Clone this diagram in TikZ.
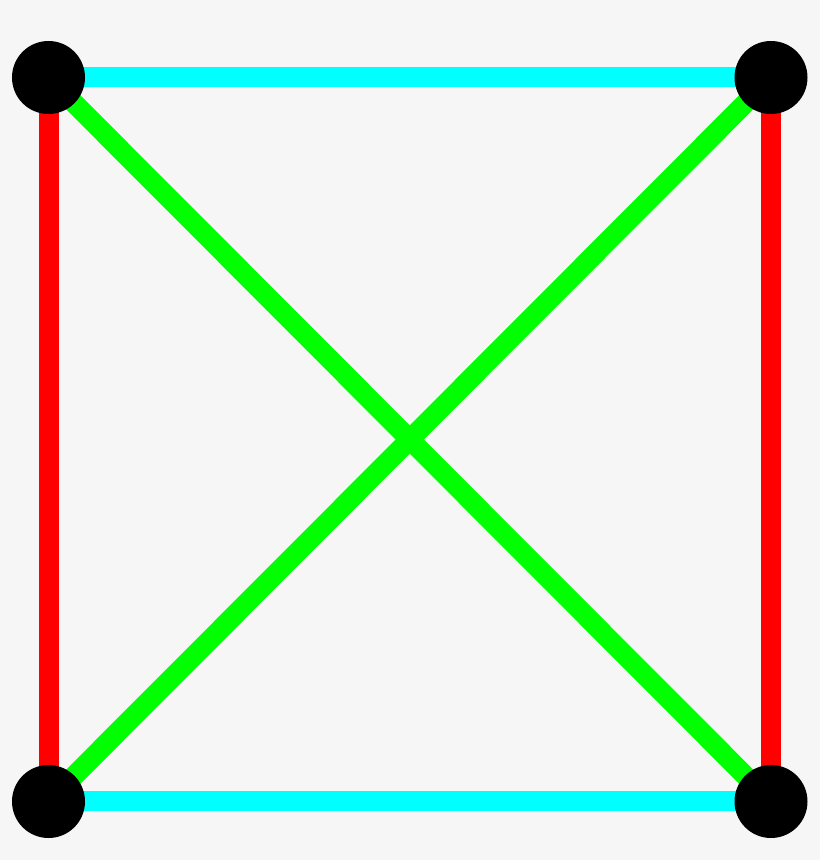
\documentclass[tikz,border=0pt]{standalone}
\usepackage{tikz}
\definecolor{bgcol}{HTML}{F6F6F6}
\definecolor{edgered}{HTML}{FF0000}
\definecolor{edgecyan}{HTML}{00FFFF}
\definecolor{edgegreen}{HTML}{00FF00}
\tikzset{
  vertex/.style={circle,fill=black,inner sep=0pt,minimum size=1.46cm},
  edge/.style={line width=0.4cm}
}
\begin{document}
\begin{tikzpicture}
\fill[bgcol] (0,0) rectangle (16.4,17.2);
\useasboundingbox (0,0) rectangle (16.4,17.2);
\coordinate (tl) at (0.97,15.65);
\coordinate (tr) at (15.42,15.65);
\coordinate (bl) at (0.97,1.17);
\coordinate (br) at (15.42,1.17);

\draw[edge,edgecyan] (tl) -- (tr);
\draw[edge,edgecyan] (bl) -- (br);
\draw[edge,edgered] (tl) -- (bl);
\draw[edge,edgered] (tr) -- (br);
\draw[edge,edgegreen] (tl) -- (br);
\draw[edge,edgegreen] (bl) -- (tr);

\foreach \v in {tl,tr,bl,br}
\node[vertex] (\v-dot) at (\v) {};
\end{tikzpicture}
\end{document}
